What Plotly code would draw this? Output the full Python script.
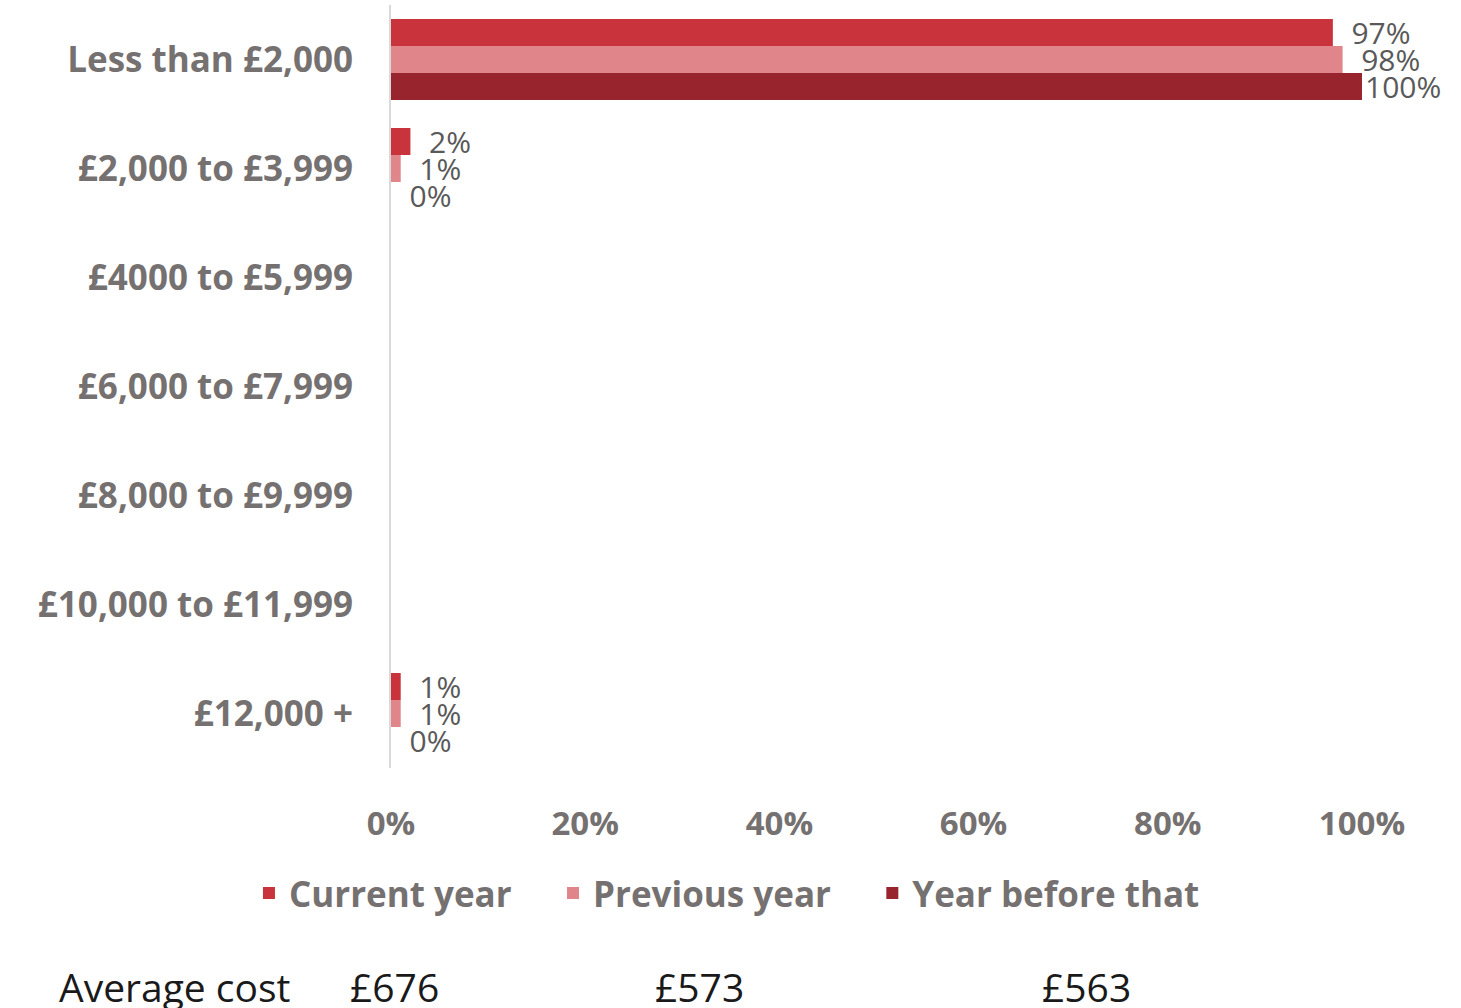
import plotly.graph_objects as go

categories = ['Less than £2,000', '£2,000 to £3,999', '£4000 to £5,999', '£6,000 to £7,999',
              '£8,000 to £9,999', '£10,000 to £11,999', '£12,000 +']
current_year = [97, 2, None, None, None, None, 1]
previous_year = [98, 1, None, None, None, None, 1]
year_before = [100, 0, None, None, None, None, 0]
series_names = ['Current year', 'Previous year', 'Year before that']
avg_costs = ['£676', '£573', '£563']
x_ticks = [0, 20, 40, 60, 80, 100]

colors = ['#C9343C', '#E0858A', '#98242D']
font_family = 'Open Sans'
nb = '\u00a0'


def label(v):
    if v is None:
        return ''
    # the 100% label sits tight against the bar end, as in the source chart
    return f'{v}%' if v >= 100 else f'{nb * 2}{v}%'


fig = go.Figure()
for i, (name, vals, col) in enumerate(zip(series_names, [current_year, previous_year, year_before], colors)):
    legend_name = name if i == len(series_names) - 1 else name + nb * 4
    fig.add_trace(
        go.Bar(
            y=categories,
            x=vals,
            name=legend_name,
            orientation='h',
            marker=dict(color=col, line=dict(width=0)),
            text=[label(v) for v in vals],
            textposition='outside',
            constraintext='none',
            cliponaxis=False,
            textfont=dict(family=font_family, size=30, color='#595959'),
        )
    )

fig.update_layout(
    width=1461,
    height=1008,
    barmode='group',
    bargap=0.257,
    bargroupgap=0,
    plot_bgcolor='white',
    paper_bgcolor='white',
    margin=dict(l=391, r=99, t=5, b=240),
    font=dict(family=font_family),
    showlegend=True,
    legend=dict(
        orientation='h',
        x=0.346,
        xanchor='center',
        y=-0.164,
        yanchor='middle',
        font=dict(family=font_family, size=35, color='#767171', weight='bold'),
    ),
    xaxis=dict(
        range=[0, 100],
        tickvals=x_ticks,
        ticktext=[f'{t}%' for t in x_ticks],
        showgrid=False,
        zeroline=False,
        showline=False,
        ticklabelstandoff=33,
        tickfont=dict(family=font_family, size=33, color='#767171', weight='bold'),
    ),
    yaxis=dict(
        autorange='reversed',
        showgrid=False,
        showline=True,
        linecolor='#D9D9D9',
        linewidth=2,
        ticklabelstandoff=29,
        tickfont=dict(family=font_family, size=35, color='#767171', weight='bold'),
    ),
)

fig.add_annotation(text='Average cost', xref='paper', yref='paper', x=-0.344, y=-0.286,
                   xanchor='left', yanchor='middle', showarrow=False,
                   font=dict(family=font_family, size=39, color='#1A1A1A'))
for xpos, cost in zip([-0.0443, 0.27, 0.668], avg_costs):
    fig.add_annotation(text=cost, xref='paper', yref='paper', x=xpos, y=-0.286,
                       xanchor='left', yanchor='middle', showarrow=False,
                       font=dict(family=font_family, size=39, color='#1A1A1A'))

fig.write_html('out.html', config={'displayModeBar': False},
               post_script="document.body.style.margin='0px';")
